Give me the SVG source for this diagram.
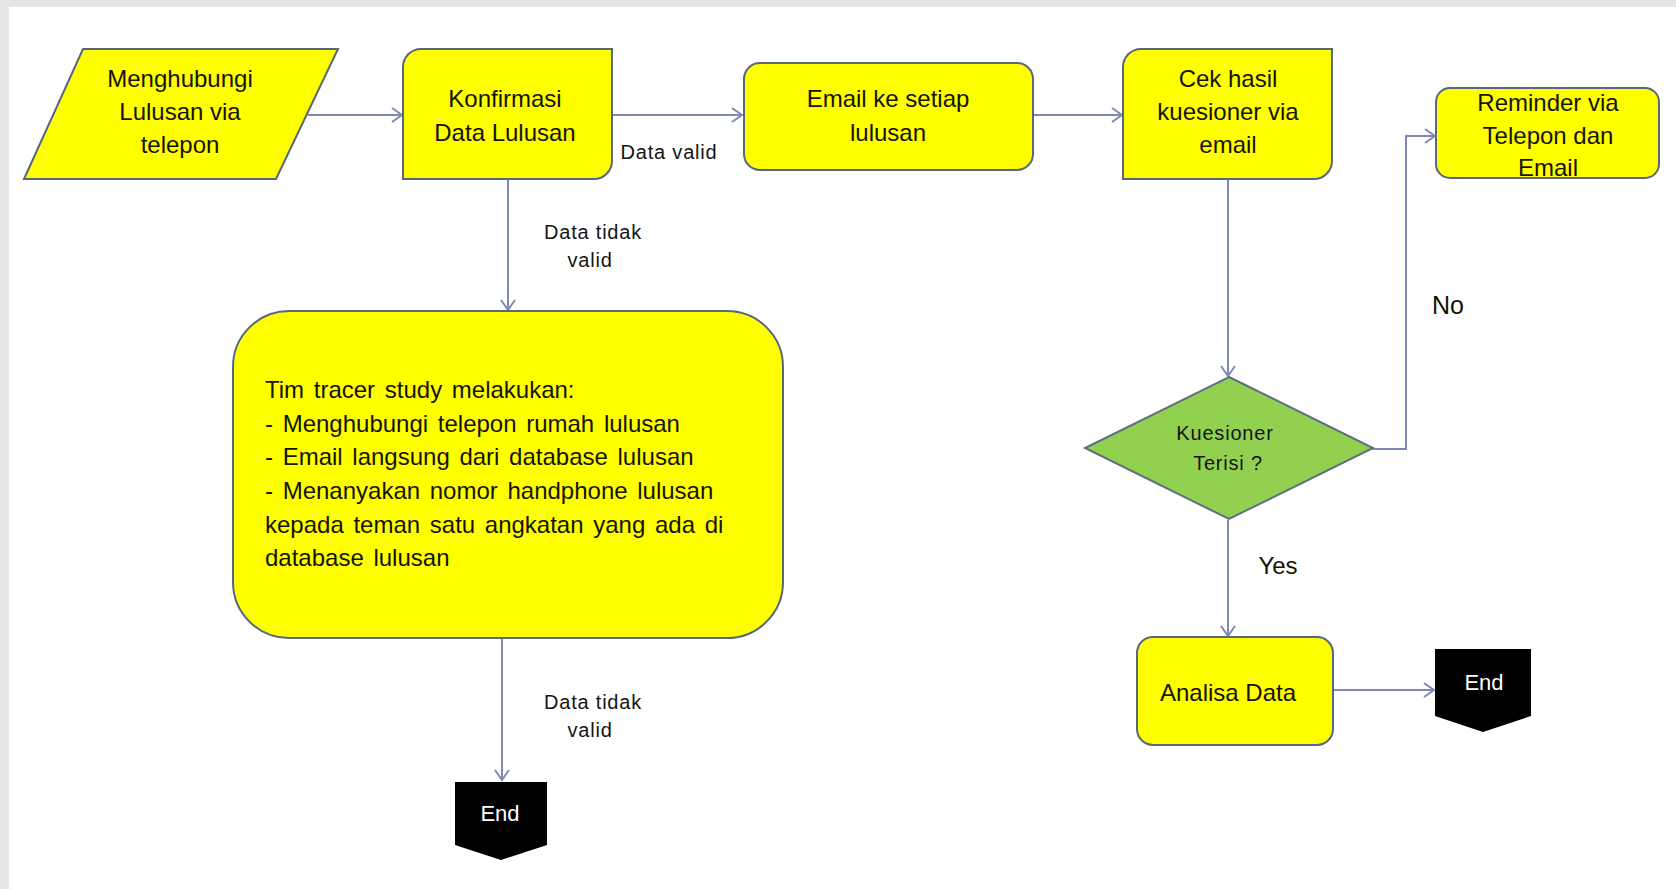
<svg xmlns="http://www.w3.org/2000/svg" width="1676" height="889" viewBox="0 0 1676 889">
<defs>
<marker id="arr" markerUnits="userSpaceOnUse" markerWidth="16" markerHeight="18" refX="11" refY="8" orient="auto">
<path d="M1,1 L11,8 L1,15" fill="none" stroke="#7f89b3" stroke-width="2"/>
</marker>
<style>
.box{fill:#ffff00;stroke:#59667f;stroke-width:2}
.dia{fill:#92d050;stroke:#5f6f80;stroke-width:2}
.end{fill:#000}
.t{font-family:"Liberation Sans",Arial,sans-serif;font-size:24px;fill:#141400;text-anchor:middle}
.tl{font-family:"Liberation Sans",Arial,sans-serif;font-size:24px;fill:#141400;word-spacing:3px}
.s{font-family:"Liberation Sans",Arial,sans-serif;font-size:20px;letter-spacing:0.8px;fill:#141414;text-anchor:middle}
.e{font-family:"Liberation Sans",Arial,sans-serif;font-size:22px;fill:#fff;text-anchor:middle}
.c{fill:none;stroke:#7f89b3;stroke-width:2;marker-end:url(#arr)}
</style>
</defs>
<rect x="0" y="0" width="1676" height="889" fill="#e6e6e6"/>
<rect x="9" y="7" width="1667" height="882" fill="#ffffff"/>

<g id="connectors">
<line class="c" x1="308" y1="115" x2="402" y2="115"/>
<line class="c" x1="612" y1="115" x2="742" y2="115"/>
<line class="c" x1="1033" y1="115" x2="1122" y2="115"/>
<line class="c" x1="508" y1="179" x2="508" y2="310"/>
<line class="c" x1="502" y1="638" x2="502" y2="780"/>
<line class="c" x1="1228" y1="179" x2="1228" y2="376"/>
<polyline class="c" points="1372,449 1406,449 1406,136 1435,136"/>
<line class="c" x1="1228" y1="520" x2="1228" y2="636"/>
<line class="c" x1="1333" y1="690" x2="1434" y2="690"/>
<text class="s" x="669" y="159">Data valid</text>
<text class="s" x="593" y="239">Data tidak</text>
<text class="s" x="590" y="267">valid</text>
<text class="s" x="593" y="709">Data tidak</text>
<text class="s" x="590" y="737">valid</text>
<text class="t" x="1448" y="314" style="font-size:25px">No</text>
<text class="t" x="1278" y="574">Yes</text>
</g>

<g id="n_menghubungi">
<polygon class="box" points="83,49 338,49 276,179 24,179"/>
<text class="t" x="180" y="87">Menghubungi</text>
<text class="t" x="180" y="120">Lulusan via</text>
<text class="t" x="180" y="153">telepon</text>
</g>

<g id="n_konfirmasi">
<path class="box" d="M421,49 H612 V161 A18,18 0 0 1 594,179 H403 V67 A18,18 0 0 1 421,49 Z"/>
<text class="t" x="505" y="107">Konfirmasi</text>
<text class="t" x="505" y="141">Data Lulusan</text>
</g>

<g id="n_email">
<rect class="box" x="744" y="63" width="289" height="107" rx="16"/>
<text class="t" x="888" y="107">Email ke setiap</text>
<text class="t" x="888" y="141">lulusan</text>
</g>

<g id="n_cek">
<path class="box" d="M1141,49 H1332 V161 A18,18 0 0 1 1314,179 H1123 V67 A18,18 0 0 1 1141,49 Z"/>
<text class="t" x="1228" y="87">Cek hasil</text>
<text class="t" x="1228" y="120">kuesioner via</text>
<text class="t" x="1228" y="153">email</text>
</g>

<g id="n_reminder">
<rect class="box" x="1436" y="88" width="223" height="90" rx="14"/>
<text class="t" x="1548" y="111">Reminder via</text>
<text class="t" x="1548" y="144">Telepon dan</text>
<text class="t" x="1548" y="176">Email</text>
</g>

<g id="n_tim">
<rect class="box" x="233" y="311" width="550" height="327" rx="56"/>
<text class="tl" x="265" y="398">Tim tracer study melakukan:</text>
<text class="tl" x="265" y="432">- Menghubungi telepon rumah lulusan</text>
<text class="tl" x="265" y="465">- Email langsung dari database lulusan</text>
<text class="tl" x="265" y="499">- Menanyakan nomor handphone lulusan</text>
<text class="tl" x="265" y="533">kepada teman satu angkatan yang ada di</text>
<text class="tl" x="265" y="566">database lulusan</text>
</g>

<g id="n_decision">
<polygon class="dia" points="1229,377 1373,448 1229,519 1085,448"/>
<text class="s" x="1225" y="440">Kuesioner</text>
<text class="s" x="1228" y="470">Terisi ?</text>
</g>

<g id="n_analisa">
<rect class="box" x="1137" y="637" width="196" height="108" rx="16"/>
<text class="t" x="1228" y="701">Analisa Data</text>
</g>

<g id="n_end_right">
<polygon class="end" points="1435,649 1531,649 1531,716 1483,732 1435,716"/>
<text class="e" x="1484" y="690">End</text>
</g>

<g id="n_end_bottom">
<polygon class="end" points="455,782 547,782 547,845 501,860 455,845"/>
<text class="e" x="500" y="821">End</text>
</g>
</svg>
